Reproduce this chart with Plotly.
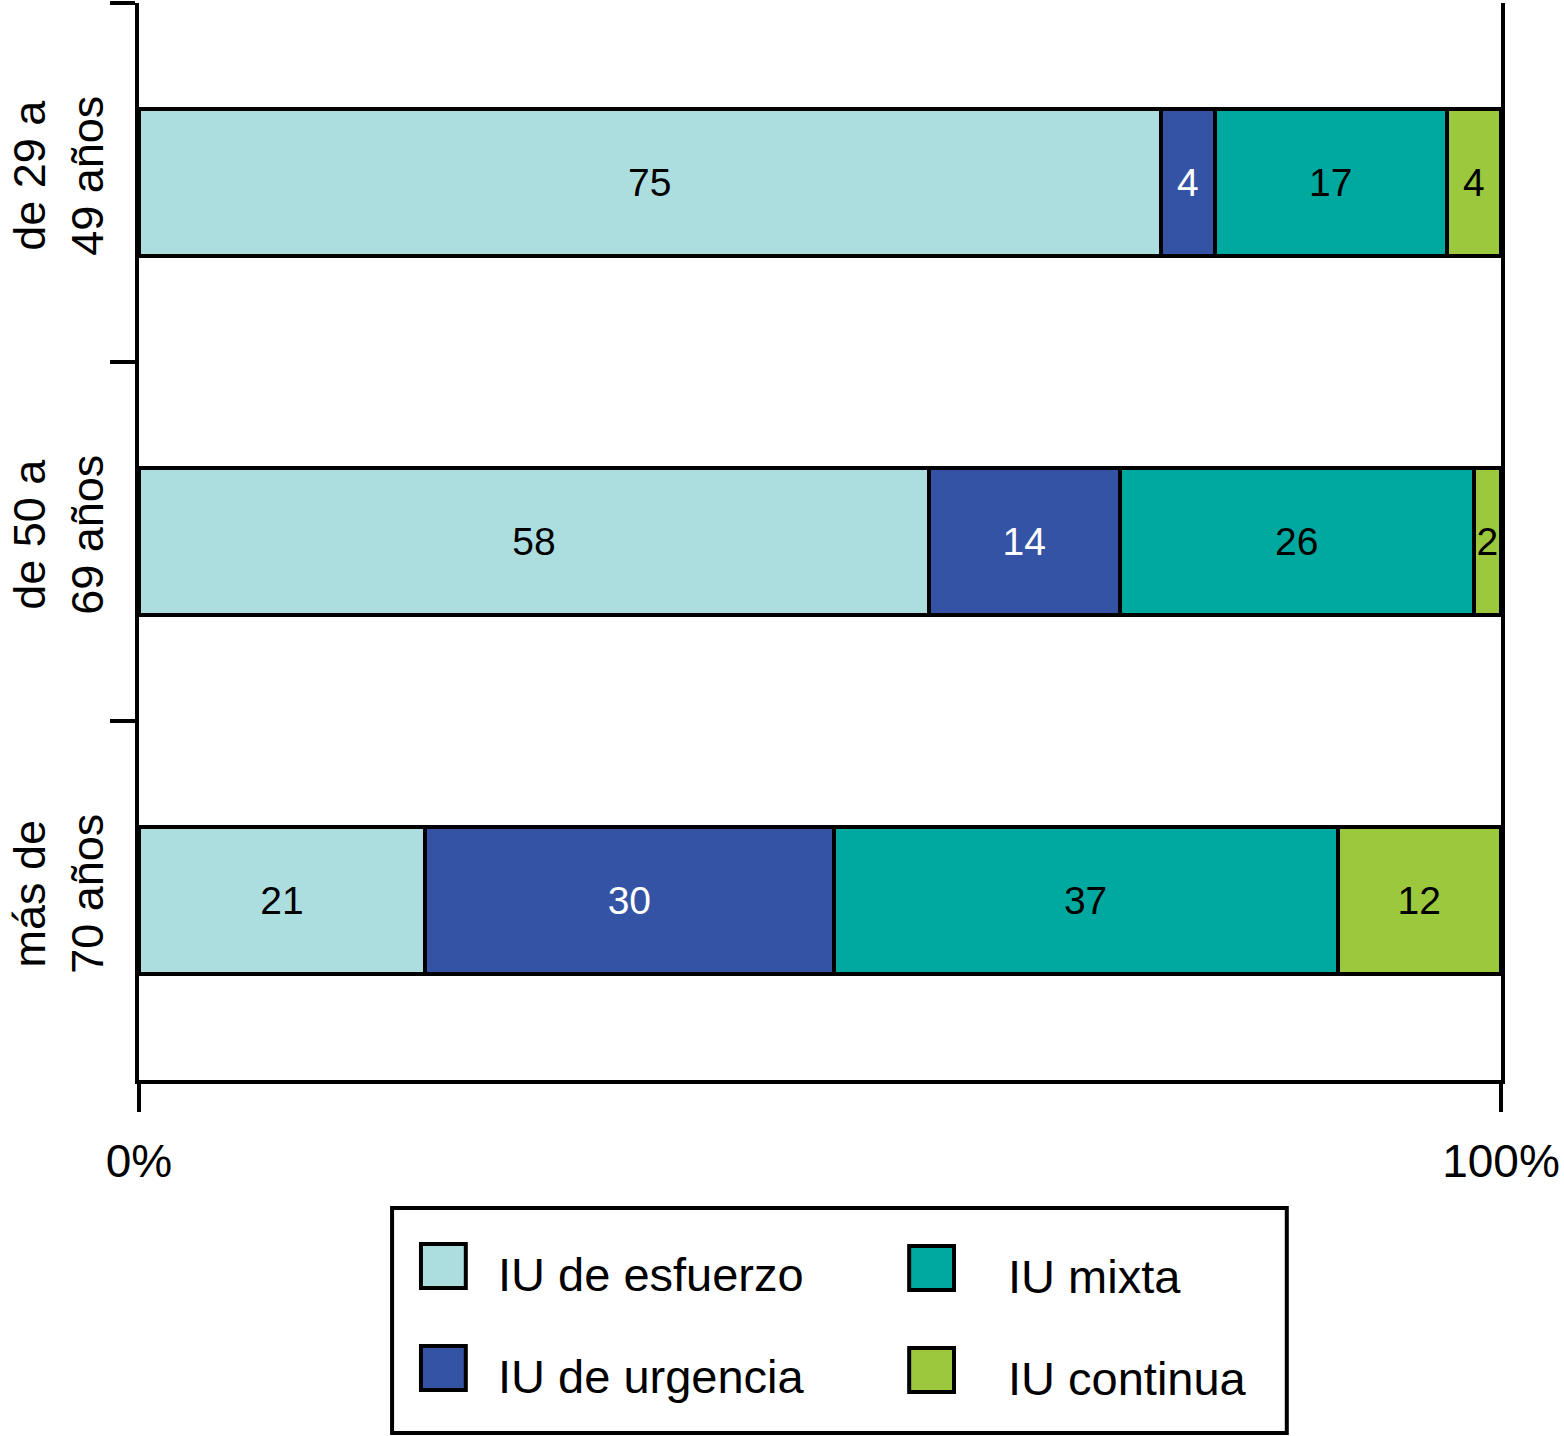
import plotly.graph_objects as go

# ---- data ----
categories = ["de 29 a<br>49 años", "de 50 a<br>69 años", "más de<br>70 años"]
series_names = ["IU de esfuerzo", "IU de urgencia", "IU mixta", "IU continua"]
esfuerzo = [75, 58, 21]
urgencia = [4, 14, 30]
mixta = [17, 26, 37]
continua = [4, 2, 12]
series_values = [esfuerzo, urgencia, mixta, continua]
colors = ["#ADDEDF", "#3553A5", "#00A99F", "#9BC83D"]
text_colors = ["black", "white", "black", "black"]
x_tickvals = [0, 100]
x_ticktext = ["0%", "100%"]

FONT = "Liberation Sans, Arial, Helvetica, sans-serif"

W, H = 1564, 1436
L, R, T, B = 134, 63, 3, 356
PW, PH = W - L - R, H - T - B

def pxx(x):
    return (x - L) / PW

def pxy(y):
    return (H - B - y) / PH

fig = go.Figure()
for name, vals, col, tcol in zip(series_names, series_values, colors, text_colors):
    fig.add_trace(go.Bar(
        y=categories, x=vals, name=name, orientation="h",
        marker=dict(color=col, line=dict(color="black", width=4)),
        width=0.41,
        text=[str(v) for v in vals],
        textposition="inside", insidetextanchor="middle",
        textangle=0, constraintext="none",
        textfont=dict(family=FONT, size=39, color=tcol),
        showlegend=False, cliponaxis=False,
    ))

# manual legend (box + swatches + labels)
shapes = [dict(type="rect", xref="paper", yref="paper",
               x0=pxx(388), x1=pxx(1286), y0=pxy(1433), y1=pxy(1208),
               line=dict(color="black", width=4), fillcolor="white")]
annotations = []
legend_pos = [(417, 1266, 492), (417, 1368, 492), (907, 1268, 1004), (907, 1370, 1004)]
for name, col, (sx, sy, tx) in zip(series_names, colors, legend_pos):
    shapes.append(dict(type="rect", xref="paper", yref="paper",
                       x0=pxx(sx), x1=pxx(sx + 45), y0=pxy(sy + 22), y1=pxy(sy - 22),
                       line=dict(color="black", width=4), fillcolor=col))
    annotations.append(dict(xref="paper", yref="paper", x=pxx(tx), y=pxy(sy + 8),
                            text=name, showarrow=False, xanchor="left", yanchor="middle",
                            font=dict(family=FONT, size=47, color="black")))

fig.update_layout(
    width=W, height=H,
    margin=dict(l=L, r=R, t=T, b=B, pad=0),
    paper_bgcolor="white", plot_bgcolor="white",
    barmode="stack",
    font=dict(family=FONT, color="black"),
    shapes=shapes, annotations=annotations,
    xaxis=dict(range=[0, 100], tickvals=x_tickvals, ticktext=x_ticktext,
               showgrid=False, zeroline=False, showline=True, linecolor="black",
               linewidth=4, ticks="outside", ticklen=28, tickwidth=4,
               tickcolor="black", tickfont=dict(family=FONT, size=46, color="black"),
               ticklabelstandoff=10, mirror=False),
    yaxis=dict(type="category", categoryorder="array", categoryarray=categories,
               autorange="reversed", tickson="boundaries",
               showgrid=False, zeroline=False, showline=True, linecolor="black",
               linewidth=4, mirror=True, ticks="outside", ticklen=25, tickwidth=4,
               tickcolor="black", tickangle=-90, ticklabelstandoff=14,
               tickfont=dict(family=FONT, size=45, color="black")),
)

fig.write_html("out.html", config={"displayModeBar": False},
               post_script="document.body.style.margin='0';document.body.style.padding='0';")
